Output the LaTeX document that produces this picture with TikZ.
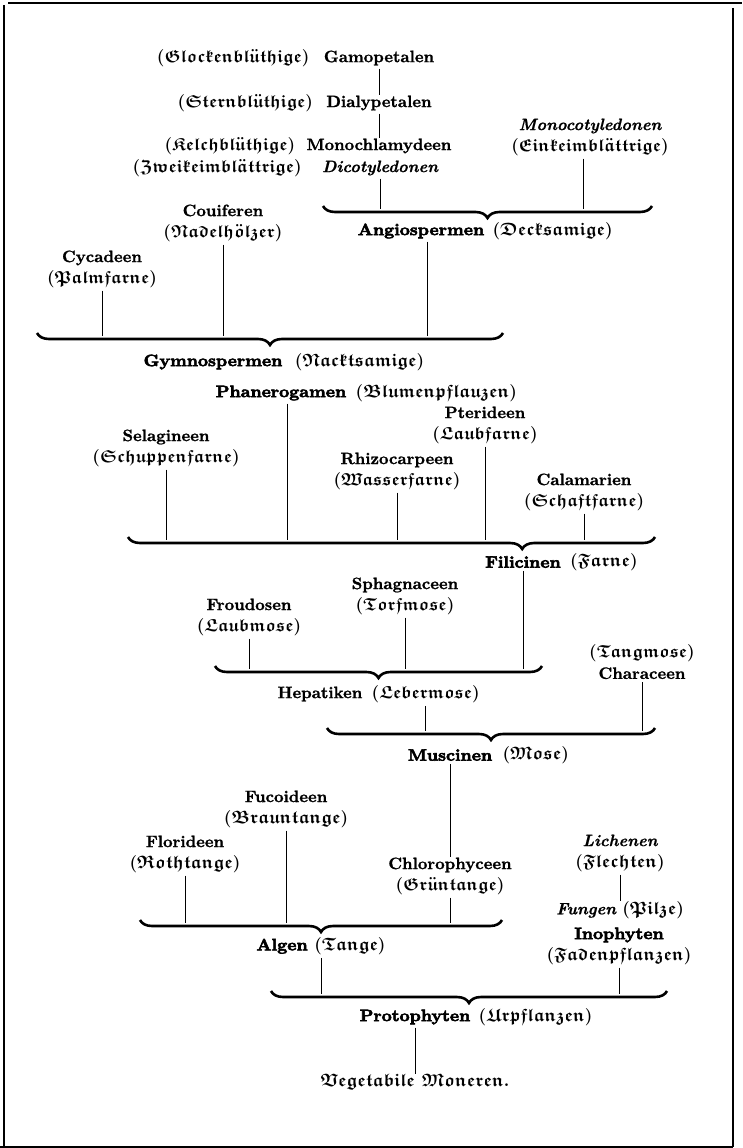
\documentclass[tikz,border=0pt]{standalone}
\usepackage{amsmath}
\usepackage{amssymb}
\usepackage{fontspec}
\usetikzlibrary{positioning,decorations.pathreplacing}

\newfontfamily\latfont{lmroman10-bold.otf}[FakeBold=1.2]
\newfontfamily\kurfont{lmroman10-bolditalic.otf}[FakeBold=0.8]
\newfontfamily\fatfont{lmroman10-bold.otf}[FakeBold=3.5,FakeStretch=1.06]

\newcommand{\fr}[1]{{\fontsize{17.5}{21}\selectfont$\boldsymbol{\mathfrak{#1}}$}}
\newcommand{\frb}[1]{{\fontsize{18}{21}\selectfont$\boldsymbol{\mathfrak{#1}}$}}

\begin{document}
\begin{tikzpicture}[x=1pt,y=-1pt,
	lab/.style={font=\latfont\fontsize{16.5}{21}\selectfont, align=center, inner sep=3pt},
	fat/.style={lab, font=\fatfont\fontsize{16.5}{21}\selectfont},
	brc/.style={decorate, decoration={brace, mirror, amplitude=12pt}, line width=2.6pt},
	con/.style={line width=0.7pt, shorten >=-3pt},
	frame/.style={line width=1.4pt}]
	\useasboundingbox (0,0) rectangle (742,1148);

	% frame
	\draw[frame] (4,1147) -- (4,5);
	\draw[frame] (8,3) -- (742,3);
	\draw[frame] (733,8) -- (733,1147);
	\draw[frame] (0,1147) -- (733,1147);

	% braces
	\coordinate (angL) at (323,206);
	\coordinate (angR) at (652,206);
	\coordinate (gymL) at (37,333);
	\coordinate (gymR) at (503,333);
	\coordinate (filL) at (128,537);
	\coordinate (filR) at (655,537);
	\coordinate (hepL) at (215,666);
	\coordinate (hepR) at (542,666);
	\coordinate (musL) at (327,728);
	\coordinate (musR) at (655,728);
	\coordinate (algL) at (140,920);
	\coordinate (algR) at (502,920);
	\coordinate (proL) at (271,991);
	\coordinate (proR) at (667,991);

	\draw[brc] (angL) -- (angR);
	\draw[brc] (gymL) -- (gymR);
	\draw[brc, decoration={aspect=0.748}] (filL) -- (filR);
	\draw[brc] (hepL) -- (hepR);
	\draw[brc] (musL) -- (musR);
	\draw[brc] (algL) -- (algR);
	\draw[brc] (proL) -- (proR);

	% Angiospermen
	\node[lab] (gamo) at (379,58) {Gamopetalen};
	\node[lab, left=8pt of gamo] (glock) {\fr{(Glockenbl\ddot{u}thige)}};
	\node[lab] (dialy) at (379,103) {Dialypetalen};
	\node[lab, left=7pt of dialy] (stern) {\fr{(Sternbl\ddot{u}thige)}};
	\node[lab] (mono) at (379,146) {Monochlamydeen};
	\node[lab, left=5pt of mono] (kelch) {\fr{(Kelchbl\ddot{u}thige)}};
	\node[lab] (dico) at (380,168) {\kurfont Dicotyledonen};
	\node[lab, left=14pt of dico] (zwei) {\fr{(Zweikeimbl\ddot{a}ttrige)}};
	\node[lab] (monoc) at (590,137) {{\kurfont Monocotyledonen}\\\fr{(Einkeimbl\ddot{a}ttrige)}};

	\draw[con] (gamo) -- (dialy);
	\draw[con] (dialy) -- (mono);
	\draw[con] (dico) -- (dico |- angL);
	\draw[con] ([xshift=-7pt]monoc.south) -- ([xshift=-7pt]monoc.south |- angL);

	% Gymnospermen
	\node[fat] (angio) at (421,231) {Angiospermen};
	\node[lab, right=2pt of angio] (deck) {\frb{(Decksamige)}};
	\node[lab] (conif) at (223,223) {Couiferen\\\fr{(Nadelh\ddot{o}lzer)}};
	\node[lab] (cycad) at (102,269) {Cycadeen\\\fr{(Palmfarne)}};

	\draw[con] ([xshift=6pt]angio.south) -- ([xshift=6pt]angio.south |- gymL);
	\draw[con] (conif) -- (conif |- gymL);
	\draw[con] (cycad) -- (cycad |- gymL);

	\node[fat] (gymno) at (213,362) {Gymnospermen};
	\node[lab, right=6pt of gymno] (nackt) {\frb{(Nacktsamige)}};

	% Filicinen
	\node[fat] (phan) at (281,393) {Phanerogamen};
	\node[lab, right=3pt of phan] (blum) {\frb{(Blumenpflauzen)}};
	\node[lab] (pter) at (485,425) {Pterideen\\\fr{(Laubfarne)}};
	\node[lab] (selag) at (166,448) {Selagineen\\\fr{(Schuppenfarne)}};
	\node[lab] (rhizo) at (397,471) {Rhizocarpeen\\\fr{(Wasserfarne)}};
	\node[lab] (calam) at (584,492) {Calamarien\\\fr{(Schaftfarne)}};

	\draw[con] ([xshift=6pt]phan.south) -- ([xshift=6pt]phan.south |- filL);
	\draw[con] (pter) -- (pter |- filL);
	\draw[con] (selag) -- (selag |- filL);
	\draw[con] (rhizo) -- (rhizo |- filL);
	\draw[con] (calam) -- (calam |- filL);

	\node[fat] (filic) at (523,562) {Filicinen};
	\node[lab, right=3pt of filic] (farne) {\frb{(Farne)}};

	% Muscinen
	\node[lab] (sphag) at (405,596) {Sphagnaceen\\\fr{(Torfmose)}};
	\node[lab] (frond) at (249,617) {Froudosen\\\fr{(Laubmose)}};

	\draw[con] (filic) -- (filic |- hepL);
	\draw[con] (sphag) -- (sphag |- hepL);
	\draw[con] (frond) -- (frond |- hepL);

	\node[lab] (tang) at (642,662) {\fr{(Tangmose)}\\Characeen};
	\node[lab] (hepat) at (320,694) {Hepatiken};
	\node[lab, right=3pt of hepat] (leber) {\fr{(Lebermose)}};

	\draw[con] (leber) -- (leber |- musL);
	\draw[con] (tang) -- (tang |- musL);

	\node[fat] (musc) at (450,755) {Muscinen};
	\node[lab, right=4pt of musc] (mose) {\frb{(Mose)}};

	% Algen, Inophyten
	\node[lab] (fuco) at (286,809) {Fucoideen\\\frb{(Brauntange)}};
	\node[lab] (flor) at (185,854) {Florideen\\\frb{(Rothtange)}};
	\node[lab] (chlor) at (450,876) {Chlorophyceen\\\fr{(Gr\ddot{u}ntange)}};
	\node[lab] (lich) at (620,853) {{\kurfont Lichenen}\\\frb{(Flechten)}};
	\node[lab] (fung) at (620,910) {{\kurfont Fungen} \frb{(Pilze)}};
	\node[fat] (ino) at (619,946) {Inophyten\\\frb{(Fadenpflanzen)}};

	\draw[con] (musc) -- (chlor);
	\draw[con] (fuco) -- (fuco |- algL);
	\draw[con] (flor) -- (flor |- algL);
	\draw[con] (chlor) -- (chlor |- algL);
	\draw[con] (lich) -- (fung);

	\node[fat] (algen) at (321,946) {Algen \frb{(Tange)}};

	\draw[con] (algen) -- (algen |- proL);
	\draw[con] (ino) -- (ino |- proL);

	% Protophyten
	\node[fat] (proto) at (415,1017) {Protophyten};
	\node[lab, right=2pt of proto] (urpf) {\frb{(Urpflanzen)}};
	\node[lab] (veg) at (415,1082) {\frb{Vegetabile\ Moneren.}};

	\draw[con] (proto) -- (veg);
\end{tikzpicture}
\end{document}
